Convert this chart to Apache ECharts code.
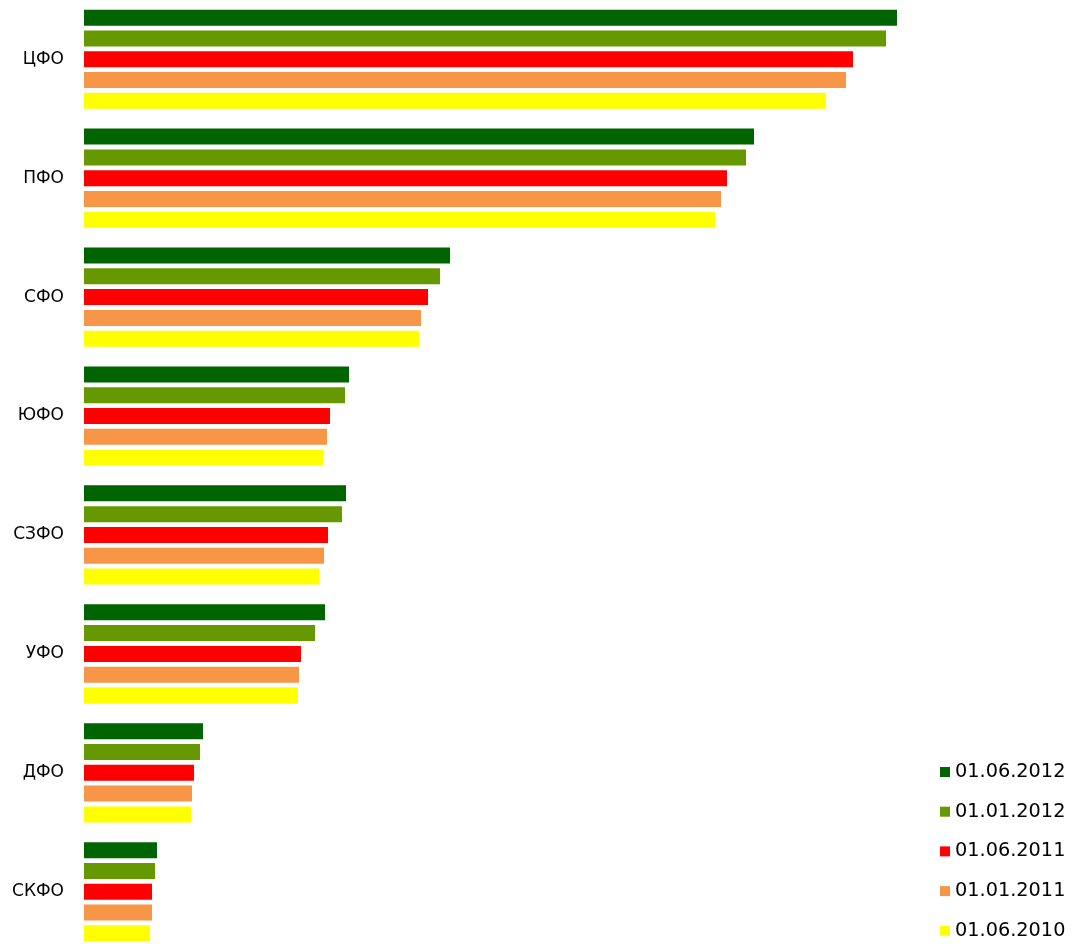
<!DOCTYPE html>
<html>
<head>
<meta charset="utf-8">
<script src="https://cdn.jsdelivr.net/npm/echarts@6/dist/echarts.min.js"></script>
<style>
  html, body { margin: 0; padding: 0; background: #fff; }
  #chart { width: 1076px; height: 944px; }
</style>
</head>
<body>
<div id="chart"></div>
<script>
// округа
const regions = ['ЦФО', 'ПФО', 'СФО', 'ЮФО', 'СЗФО', 'УФО', 'ДФО', 'СКФО']
// даты (серии)
const dates = ['01.06.2012', '01.01.2012', '01.06.2011', '01.01.2011', '01.06.2010']
const colors = ['#006400', '#669900', '#ff0000', '#f79646', '#ffff00']

// значения по датам, в порядке regions
const v20120601 = [813, 670, 366, 265, 262, 241, 119, 73]
const v20120101 = [802, 662, 356, 261, 258, 231, 116, 71]
const v20110601 = [769, 643, 344, 246, 244, 217, 110, 68]
const v20110101 = [762, 637, 337, 243, 240, 215, 108, 68]
const v20100601 = [742, 631, 335, 239, 235, 214, 107, 66]
const values = [v20120601, v20120101, v20110601, v20110101, v20100601]

let option = {
  animation: false,
  backgroundColor: '#fff',
  grid: {
    left: 84,
    top: -0.2,
    width: 900,
    height: 951.4,
    containLabel: false,
    outerBoundsMode: 'none'
  },
  legend: {
    orient: 'vertical',
    left: 940,
    top: 762.5,
    padding: 0,
    itemWidth: 10,
    itemHeight: 10,
    itemGap: 20.7,
    icon: 'rect',
    textStyle: {
      fontFamily: 'DejaVu Sans',
      fontSize: 19.3,
      lineHeight: 19,
      color: '#000'
    },
    data: dates
  },
  xAxis: {
    type: 'value',
    min: 0,
    max: 900,
    show: false,
    splitLine: { show: false }
  },
  yAxis: {
    type: 'category',
    inverse: true,
    data: regions,
    axisLine: { show: false },
    axisTick: { show: false },
    axisLabel: {
      margin: 20,
      fontFamily: 'DejaVu Sans',
      fontSize: 17,
      color: '#000'
    }
  },
  series: dates.map((d, i) => ({
    name: d,
    type: 'bar',
    data: values[i],
    barWidth: 16,
    barGap: '30%',
    itemStyle: { color: colors[i] }
  }))
}

const chart = echarts.init(document.getElementById('chart'))
chart.setOption(option)
</script>
</body>
</html>
